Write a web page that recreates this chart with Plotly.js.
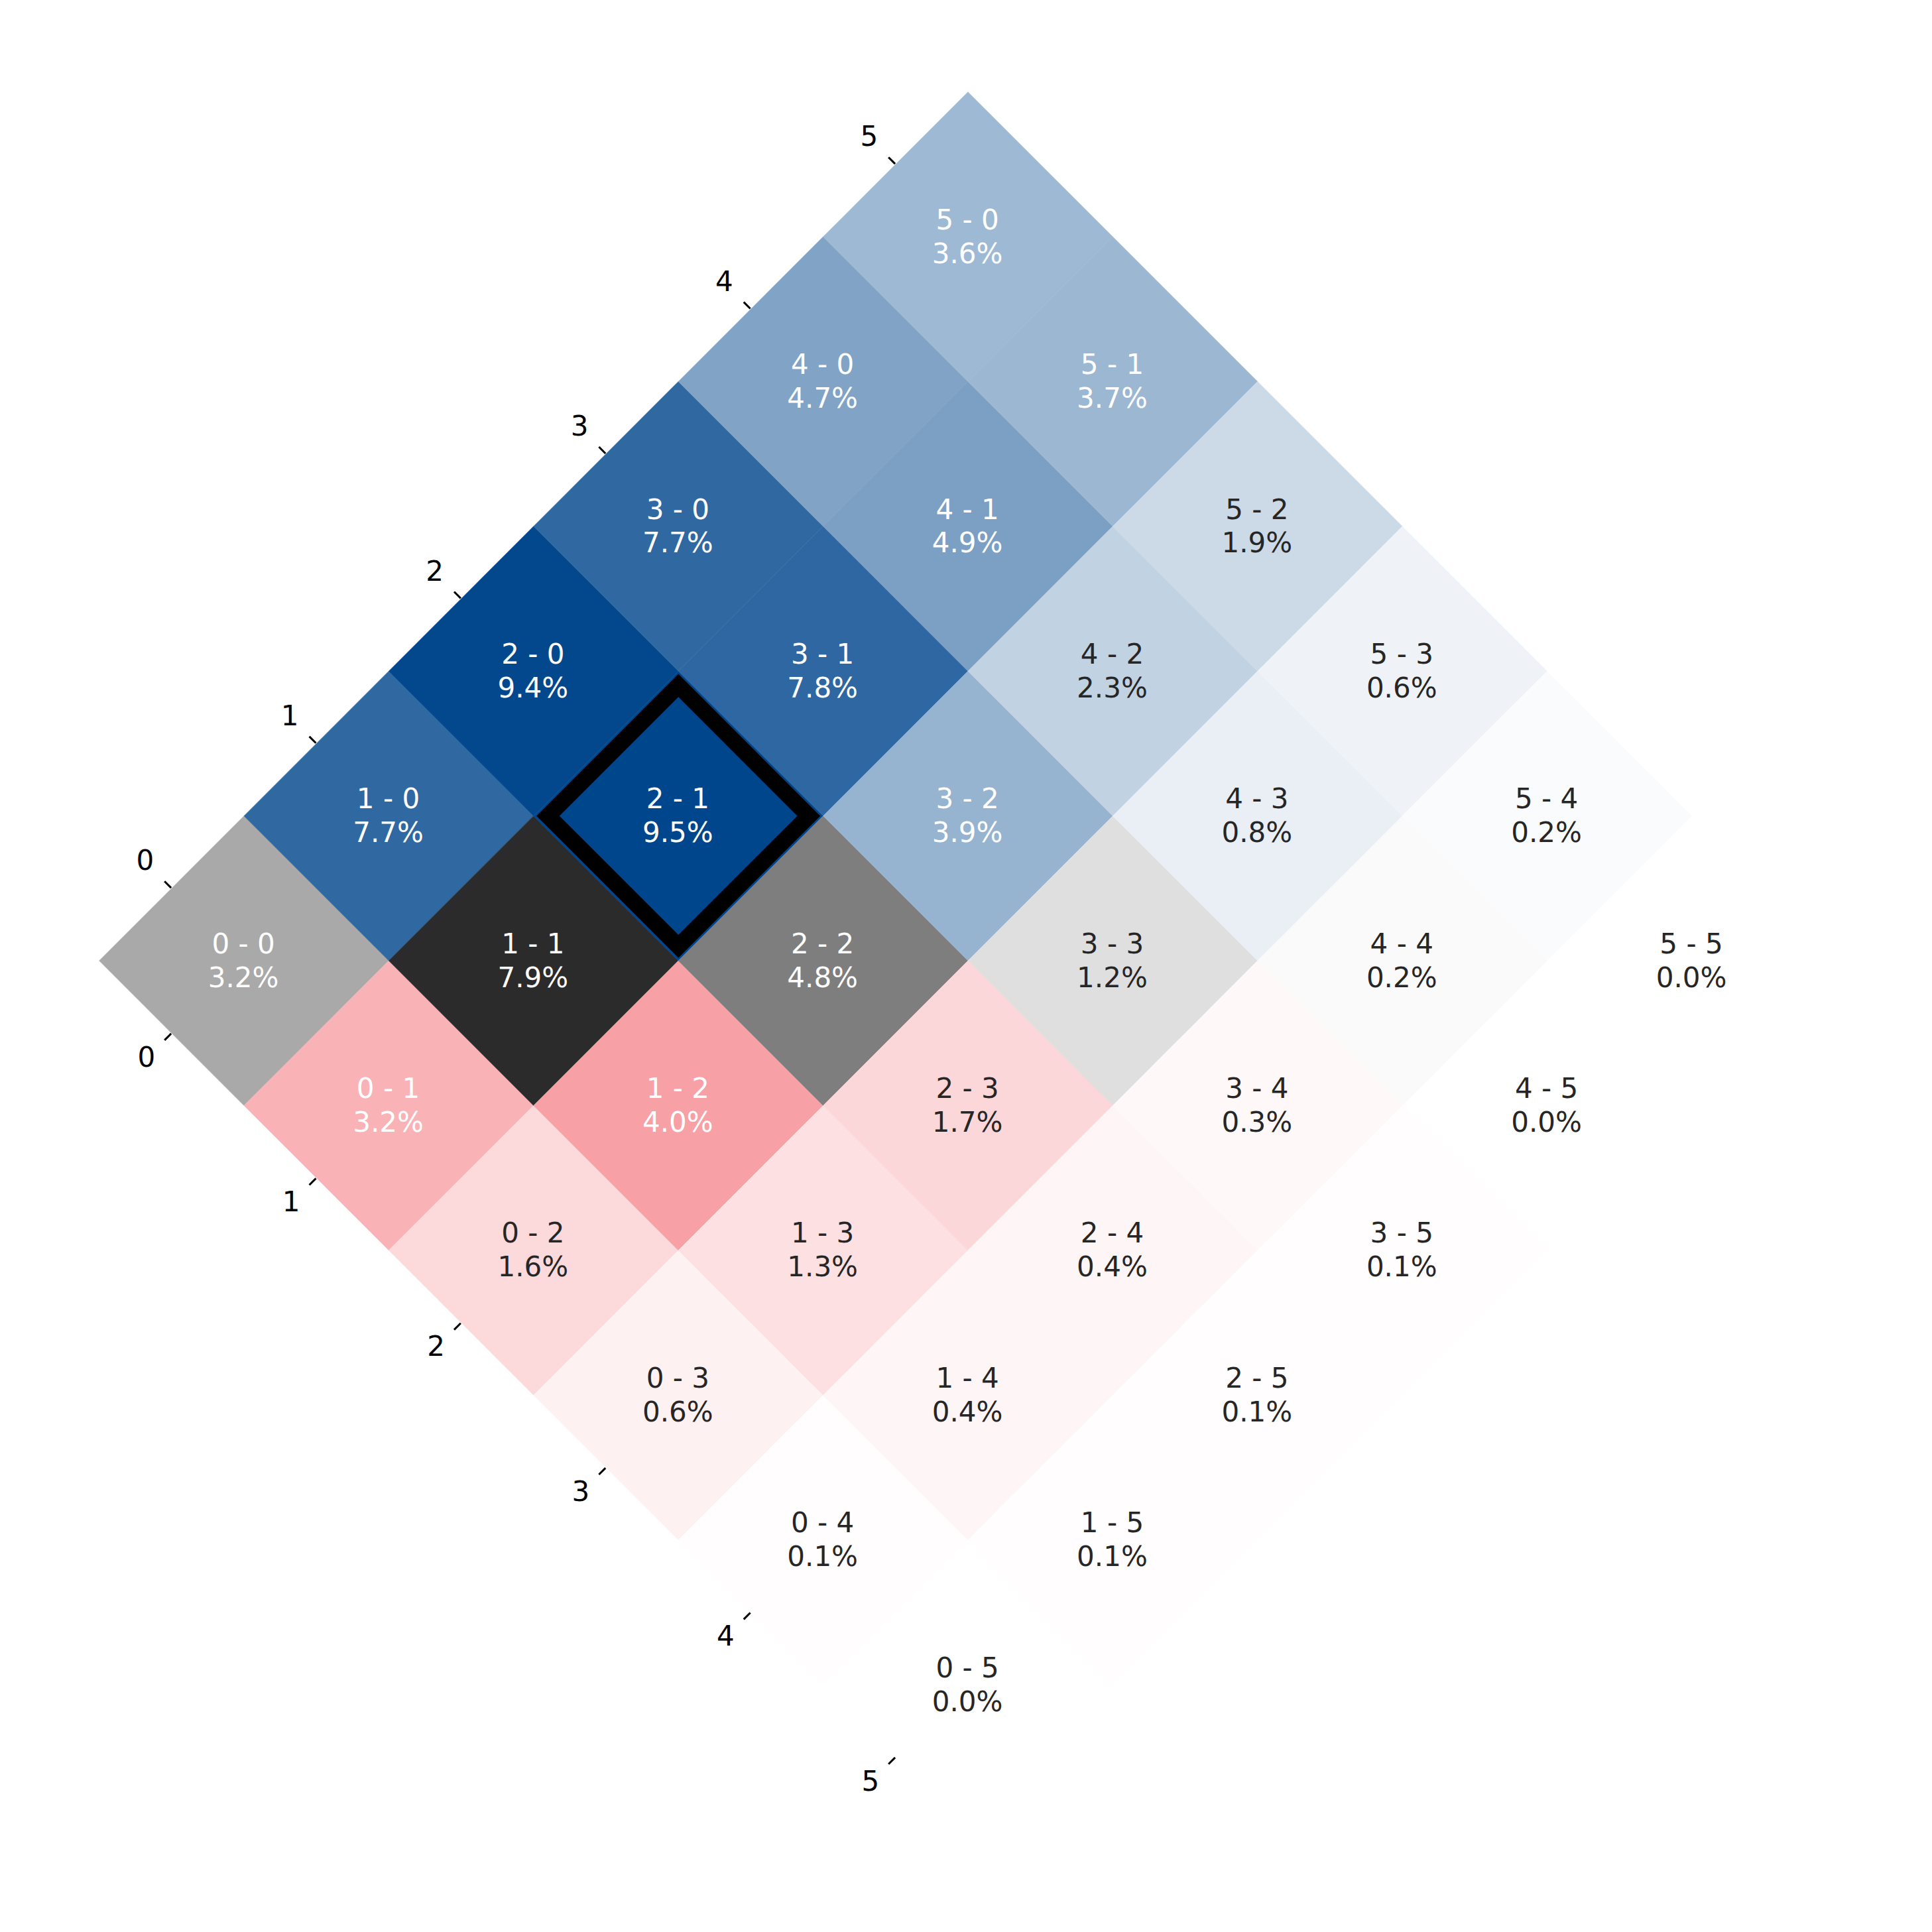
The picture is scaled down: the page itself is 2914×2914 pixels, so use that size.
<!DOCTYPE html>
<html><head><meta charset="utf-8">
<script src="https://cdn.plot.ly/plotly-3.0.1.min.js"></script>
<style>html,body{margin:0;padding:0;background:#fff}</style>
</head><body><div id="chart" style="width:2914px;height:2914px"></div>
<script>
// Home goals (upper-left axis) and away goals (lower-left axis)
const homeGoals = [0, 1, 2, 3, 4, 5];
const awayGoals = [0, 1, 2, 3, 4, 5];
const tickLabels = ['0', '1', '2', '3', '4', '5'];
// Probability (%) of each score, one row per home-goal count, columns = away goals 0..5
const probHome0 = [3.2, 3.2, 1.6, 0.6, 0.1, 0.0];
const probHome1 = [7.7, 7.9, 4.0, 1.3, 0.4, 0.1];
const probHome2 = [9.4, 9.5, 4.8, 1.7, 0.4, 0.1];
const probHome3 = [7.7, 7.8, 3.9, 1.2, 0.3, 0.1];
const probHome4 = [4.7, 4.9, 2.3, 0.8, 0.2, 0.0];
const probHome5 = [3.6, 3.7, 1.9, 0.6, 0.2, 0.0];
const probs = [probHome0, probHome1, probHome2, probHome3, probHome4, probHome5];
const highlightScore = [2, 1];

const homeColor = [0, 70, 140];
const awayColor = [236, 29, 41];
const drawColor = [0, 0, 0];
const maxProb = Math.max(...probs.flat());

function blend(c, a) {
  return 'rgb(' + c.map(v => Math.round(255 - a * (255 - v))).join(',') + ')';
}
// rotate the (home, away) grid by 45 degrees
function cx(i, j) { return i + j; }
function cy(i, j) { return i - j; }
function diamond(i, j, r) {
  const X = cx(i, j), Y = cy(i, j);
  return { x: [X - r, X, X + r, X, X - r], y: [Y, Y + r, Y, Y - r, Y] };
}
function cellColor(i, j) {
  const a = probs[i][j] / maxProb;
  const base = i > j ? homeColor : (i < j ? awayColor : drawColor);
  return blend(base, a);
}

const traces = [];
homeGoals.forEach(i => {
  awayGoals.forEach(j => {
    const d = diamond(i, j, 1);
    const col = cellColor(i, j);
    traces.push({
      type: 'scatter', mode: 'lines', x: d.x, y: d.y, fill: 'toself',
      fillcolor: col, line: { width: 0.6, color: col }, hoverinfo: 'skip', showlegend: false
    });
  });
});

// highlighted score: black ring
(function () {
  const [hi, hj] = highlightScore;
  const outer = diamond(hi, hj, 0.98);
  const inner = diamond(hi, hj, 0.82);
  traces.push({ type: 'scatter', mode: 'lines', x: outer.x, y: outer.y, fill: 'toself',
    fillcolor: '#000000', line: { width: 0, color: '#000000' }, hoverinfo: 'skip', showlegend: false });
  const col = cellColor(hi, hj);
  traces.push({ type: 'scatter', mode: 'lines', x: inner.x, y: inner.y, fill: 'toself',
    fillcolor: col, line: { width: 0.6, color: col }, hoverinfo: 'skip', showlegend: false });
})();

// cell texts
const lx = [], ly = [], lt = [], px = [], py = [], pt = [], tc = [];
homeGoals.forEach(i => {
  awayGoals.forEach(j => {
    const p = probs[i][j];
    lx.push(cx(i, j) - 0.004); ly.push(cy(i, j) + 0.10); lt.push(i + ' - ' + j);
    px.push(cx(i, j) - 0.004); py.push(cy(i, j) - 0.133); pt.push(p.toFixed(1) + '%');
    tc.push(p / maxProb > 0.3 ? '#ffffff' : '#262626');
  });
});
const font = 'DejaVu Sans, Verdana, sans-serif';
traces.push({ type: 'scatter', mode: 'text', x: lx, y: ly, text: lt, textposition: 'middle center',
  textfont: { family: font, size: 42, color: tc }, hoverinfo: 'skip', showlegend: false, cliponaxis: false });
traces.push({ type: 'scatter', mode: 'text', x: px, y: py, text: pt, textposition: 'middle center',
  textfont: { family: font, size: 42, color: tc }, hoverinfo: 'skip', showlegend: false, cliponaxis: false });

// axis ticks along the two left edges
const px1 = 1 / 218.4 / Math.SQRT2;
const tkx = [], tky = [], tlx = [], tly = [], tlt = [];
homeGoals.forEach((i, k) => {
  const mx = i - 0.5, my = i + 0.5;        // mid of upper-left edge of cell (i,0)
  tkx.push(mx - 1 * px1, mx - 15 * px1, null); tky.push(my + 1 * px1, my + 15 * px1, null);
  tlx.push(mx - 0.183); tly.push(my + 0.174); tlt.push(tickLabels[k]);
});
awayGoals.forEach((j, k) => {
  const mx = j - 0.5, my = -j - 0.5;       // mid of lower-left edge of cell (0,j)
  tkx.push(mx - 1 * px1, mx - 15 * px1, null); tky.push(my - 1 * px1, my - 15 * px1, null);
  tlx.push(mx - 0.174); tly.push(my - 0.183); tlt.push(tickLabels[k]);
});
traces.push({ type: 'scatter', mode: 'lines', x: tkx, y: tky, line: { color: '#000000', width: 3 },
  hoverinfo: 'skip', showlegend: false, cliponaxis: false });
traces.push({ type: 'scatter', mode: 'text', x: tlx, y: tly, text: tlt, textposition: 'middle center',
  textfont: { family: font, size: 42, color: '#000000' }, hoverinfo: 'skip', showlegend: false, cliponaxis: false });

const layout = {
  width: 2914, height: 2914, autosize: false,
  margin: { l: 0, r: 0, t: 0, b: 0, pad: 0 },
  paper_bgcolor: '#ffffff', plot_bgcolor: '#ffffff',
  showlegend: false, hovermode: false,
  xaxis: { range: [-1.685, 11.658], visible: false, showgrid: false, zeroline: false, fixedrange: true },
  yaxis: { range: [-6.708, 6.635], visible: false, showgrid: false, zeroline: false, fixedrange: true }
};
Plotly.newPlot('chart', traces, layout, { staticPlot: true, displayModeBar: false });
</script>
</body></html>
